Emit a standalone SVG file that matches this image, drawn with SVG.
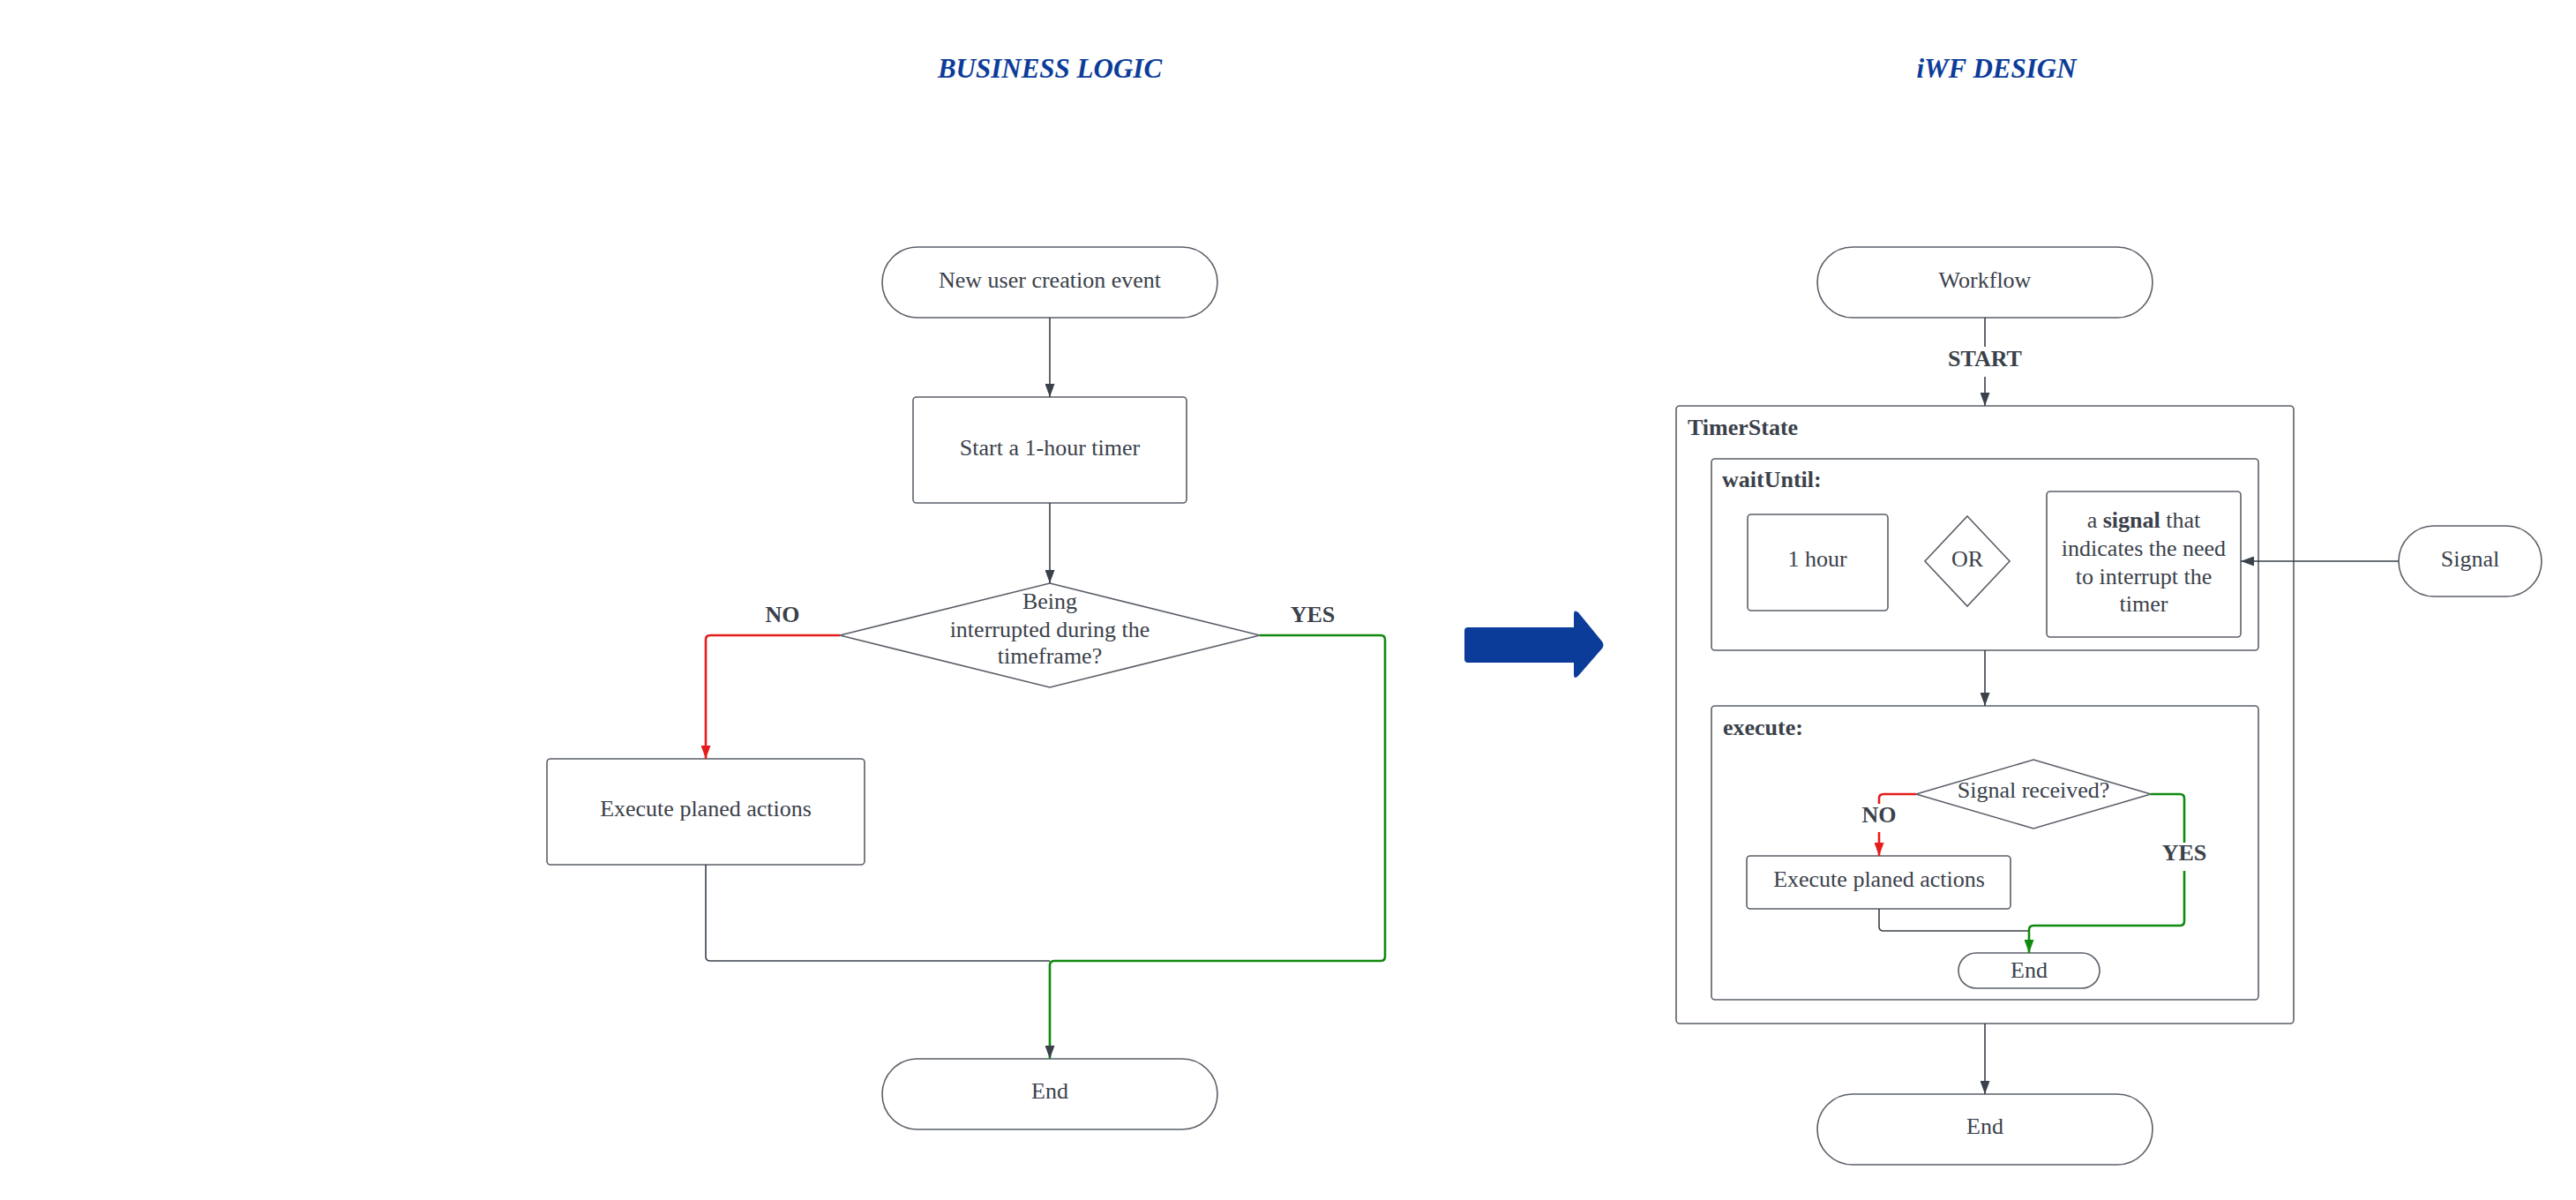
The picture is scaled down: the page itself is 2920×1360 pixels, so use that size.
<svg xmlns="http://www.w3.org/2000/svg" width="2920" height="1360" viewBox="0 0 2920 1360">
<style>
.box{fill:#fff;stroke:#5a5f68;stroke-width:1.6}
.t{font-family:"Liberation Serif",serif;font-size:26px;fill:#3a414a;text-anchor:middle}
.b{font-weight:bold}
.l{text-anchor:start}
.title{font-family:"Liberation Serif",serif;font-size:31px;font-weight:bold;font-style:italic;fill:#0c3c99;text-anchor:middle}
.c{fill:none;stroke:#3a414a;stroke-width:1.6}
.red{fill:none;stroke:#e51c1c;stroke-width:2.6}
.grn{fill:none;stroke:#108a10;stroke-width:2.6}
</style>
<defs>
<marker id="ad" markerUnits="userSpaceOnUse" markerWidth="15" markerHeight="11" refX="15" refY="5.5" orient="auto"><path d="M0,0 L15,5.5 L0,11 z" fill="#3a414a"/></marker>
<marker id="ar" markerUnits="userSpaceOnUse" markerWidth="15" markerHeight="11" refX="15" refY="5.5" orient="auto"><path d="M0,0 L15,5.5 L0,11 z" fill="#e51c1c"/></marker>
<marker id="ag" markerUnits="userSpaceOnUse" markerWidth="15" markerHeight="11" refX="15" refY="5.5" orient="auto"><path d="M0,0 L15,5.5 L0,11 z" fill="#108a10"/></marker>
</defs>
<rect width="2920" height="1360" fill="#fff"/>
<text class="title" x="1190" y="88">BUSINESS LOGIC</text>
<text class="title" x="2263" y="88">iWF DESIGN</text>

<g id="transform-arrow">
<path d="M1664,711 H1784 V696 Q1784,690 1789,694 L1816,727 Q1819,731 1816,735 L1789,766 Q1784,771 1784,764 V751 H1664 Q1660,751 1660,747 V715 Q1660,711 1664,711 z" fill="#0c3c99"/>
</g>

<g id="bl-start"><rect class="box" x="1000" y="280" width="380" height="80" rx="40"/><text class="t" x="1190" y="326">New user creation event</text></g>
<g id="bl-timer"><rect class="box" x="1035" y="450" width="310" height="120" rx="4"/><text class="t" x="1190" y="516">Start a 1-hour timer</text></g>
<g id="bl-decision"><path class="box" d="M1190,661 L1428,720 L1190,779 L952,720 z"/><text class="t" x="1190" y="690">Being</text><text class="t" x="1190" y="722">interrupted during the</text><text class="t" x="1190" y="752">timeframe?</text></g>
<g id="bl-execute"><rect class="box" x="620" y="860" width="360" height="120" rx="4"/><text class="t" x="800" y="925">Execute planed actions</text></g>
<g id="bl-end"><rect class="box" x="1000" y="1200" width="380" height="80" rx="40"/><text class="t" x="1190" y="1245">End</text></g>

<g id="iwf-workflow"><rect class="box" x="2060" y="280" width="380" height="80" rx="40"/><text class="t" x="2250" y="326">Workflow</text></g>
<g id="iwf-timerstate"><rect class="box" x="1900" y="460" width="700" height="700" rx="4"/><text class="t b l" x="1913" y="493">TimerState</text></g>
<g id="iwf-waituntil"><rect class="box" x="1940" y="520" width="620" height="217" rx="4"/><text class="t b l" x="1952" y="552">waitUntil:</text></g>
<g id="iwf-hour"><rect class="box" x="1981" y="583" width="159" height="109" rx="4"/><text class="t" x="2060" y="642">1 hour</text></g>
<g id="iwf-or"><path class="box" d="M2230,585 L2278,636 L2230,687 L2182,636 z"/><text class="t" x="2230" y="642">OR</text></g>
<g id="iwf-signalcond"><rect class="box" x="2320" y="557" width="220" height="165" rx="4"/><text class="t" x="2430" y="598">a <tspan class="b">signal</tspan> that</text><text class="t" x="2430" y="630">indicates the need</text><text class="t" x="2430" y="662">to interrupt the</text><text class="t" x="2430" y="693">timer</text></g>
<g id="iwf-signal"><rect class="box" x="2719" y="596" width="162" height="80" rx="40"/><text class="t" x="2800" y="642">Signal</text></g>
<g id="iwf-execute"><rect class="box" x="1940" y="800" width="620" height="333" rx="4"/><text class="t b l" x="1953" y="833">execute:</text></g>
<g id="iwf-decision"><path class="box" d="M2305,861 L2438,900 L2305,939 L2172,900 z"/><text class="t" x="2305" y="904">Signal received?</text></g>
<g id="iwf-actions"><rect class="box" x="1980" y="970" width="299" height="60" rx="4"/><text class="t" x="2130" y="1005">Execute planed actions</text></g>
<g id="iwf-innerend"><rect class="box" x="2220" y="1080" width="160" height="40" rx="20"/><text class="t" x="2300" y="1108">End</text></g>
<g id="iwf-end"><rect class="box" x="2060" y="1240" width="380" height="80" rx="40"/><text class="t" x="2250" y="1285">End</text></g>

<g id="connectors">
<path class="c" d="M1190,360 V450" marker-end="url(#ad)"/>
<path class="c" d="M1190,570 V661" marker-end="url(#ad)"/>
<path class="red" d="M952,720 H805 Q800,720 800,725 V860" marker-end="url(#ar)"/>
<path class="c" d="M800,980 V1084 Q800,1089 805,1089 H1190"/>
<path class="grn" d="M1428,720 H1565 Q1570,720 1570,725 V1084 Q1570,1089 1565,1089 H1195 Q1190,1089 1190,1094 V1200" marker-end="url(#ad)"/>
<text class="t b" x="887" y="705">NO</text>
<text class="t b" x="1488" y="705">YES</text>

<path class="c" d="M2250,360 V393"/>
<path class="c" d="M2250,427 V460" marker-end="url(#ad)"/>
<text class="t b" x="2250" y="415">START</text>
<path class="c" d="M2250,737 V800" marker-end="url(#ad)"/>
<path class="c" d="M2719,636 H2540" marker-end="url(#ad)"/>
<path class="red" d="M2172,900 H2135 Q2130,900 2130,905 V911"/>
<path class="red" d="M2130,943 V970" marker-end="url(#ar)"/>
<text class="t b" x="2130" y="932">NO</text>
<path class="c" d="M2130,1030 V1050 Q2130,1055 2135,1055 H2300"/>
<path class="grn" d="M2438,900 H2471 Q2476,900 2476,905 V955"/>
<path class="grn" d="M2476,987 V1044 Q2476,1049 2471,1049 H2305 Q2300,1049 2300,1054 V1080" marker-end="url(#ag)"/>
<text class="t b" x="2476" y="975">YES</text>
<path class="c" d="M2250,1160 V1240" marker-end="url(#ad)"/>
</g>
</svg>
